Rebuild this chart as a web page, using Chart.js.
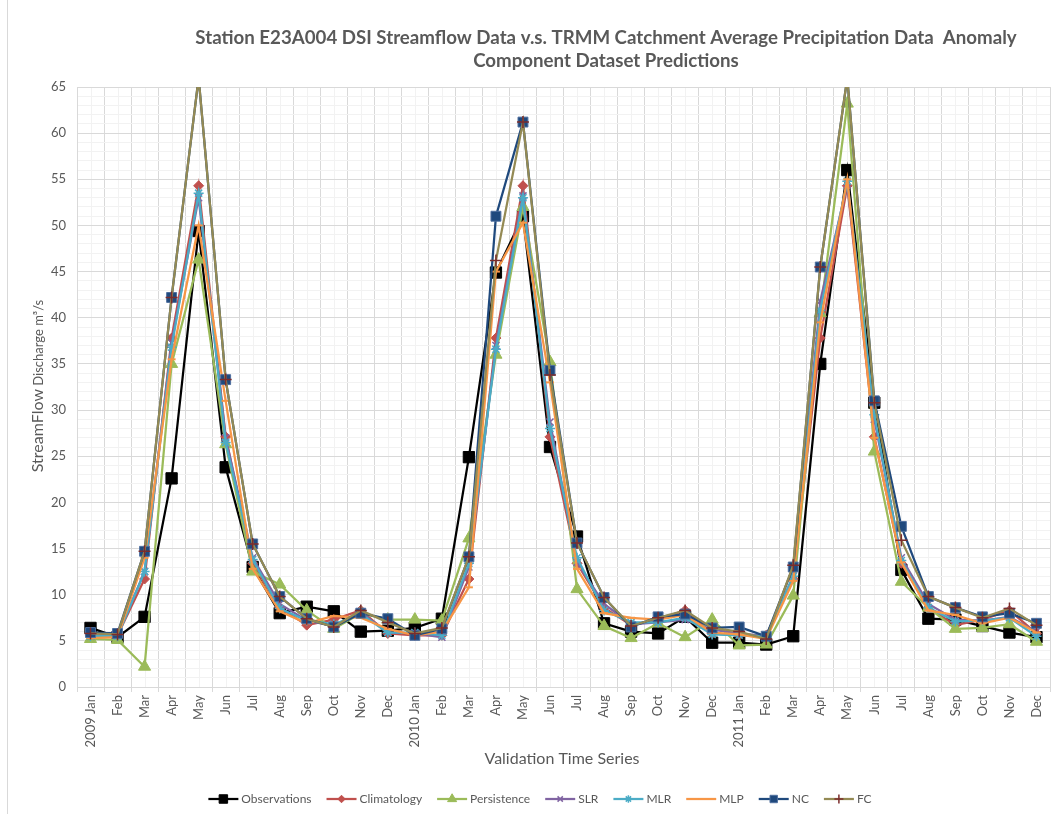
<!DOCTYPE html>
<html>
<head>
<meta charset="utf-8">
<title>Station E23A004 DSI Streamflow vs TRMM</title>
<script src="https://cdn.jsdelivr.net/npm/chart.js@4.4.0/dist/chart.umd.min.js"></script>
<style>
  html, body { margin: 0; padding: 0; background: #fff; }
  canvas { display: block; }
</style>
</head>
<body>
<canvas id="chart" width="1051" height="814"></canvas>
<script>
// ---- data ----
const categories = [
  '2009 Jan', 'Feb', 'Mar', 'Apr', 'May', 'Jun', 'Jul', 'Aug', 'Sep', 'Oct', 'Nov', 'Dec',
  '2010 Jan', 'Feb', 'Mar', 'Apr', 'May', 'Jun', 'Jul', 'Aug', 'Sep', 'Oct', 'Nov', 'Dec',
  '2011 Jan', 'Feb', 'Mar', 'Apr', 'May', 'Jun', 'Jul', 'Aug', 'Sep', 'Oct', 'Nov', 'Dec'
];
const observations = [6.4, 5.4, 7.6, 22.6, 49.4, 23.8, 13.0, 8.0, 8.7, 8.2, 6.0, 6.1,
                      6.4, 7.4, 24.9, 44.9, 51.0, 26.0, 16.3, 6.9, 6.0, 5.8, 7.6, 4.8,
                      4.8, 4.6, 5.5, 35.0, 56.0, 30.8, 12.7, 7.4, 7.3, 6.6, 5.9, 5.4];
const climatology = [5.6, 5.6, 11.7, 37.8, 54.3, 27.1, 13.4, 8.6, 6.7, 7.3, 8.3, 5.8,
                     5.6, 5.6, 11.7, 37.8, 54.3, 27.1, 13.4, 8.6, 6.7, 7.3, 8.3, 5.8,
                     5.6, 5.6, 11.7, 37.8, 54.3, 27.1, 13.4, 8.6, 6.7, 7.3, 8.3, 5.8];
const persistence = [5.2, 5.1, 2.2, 35.0, 46.3, 26.3, 12.5, 11.1, 8.3, 6.3, 8.0, 7.3,
                     7.3, 7.2, 16.1, 36.0, 52.0, 35.2, 10.6, 6.6, 5.3, 6.9, 5.4, 7.3,
                     4.5, 4.6, 9.9, 40.5, 63.2, 25.5, 11.4, 8.6, 6.3, 6.4, 6.8, 4.9];
const slr = [5.5, 5.6, 12.5, 37.3, 53.0, 27.0, 14.0, 9.0, 7.2, 6.6, 8.1, 5.9,
             5.8, 5.4, 13.0, 37.0, 53.2, 28.7, 13.5, 9.0, 6.8, 7.0, 7.3, 6.2,
             5.8, 5.5, 12.0, 41.8, 54.5, 29.0, 14.0, 9.0, 7.3, 7.2, 7.6, 6.0];
const mlr = [5.5, 5.5, 12.5, 36.8, 53.5, 26.5, 13.8, 8.5, 7.2, 6.8, 7.9, 5.9,
             5.9, 5.6, 13.4, 36.6, 53.0, 28.0, 14.0, 8.3, 7.0, 7.0, 7.5, 5.7,
             5.6, 5.5, 12.0, 40.8, 54.8, 29.5, 13.7, 8.6, 7.1, 7.2, 7.5, 5.5];
const mlp = [5.3, 5.4, 14.0, 35.5, 50.0, 31.0, 12.8, 8.2, 6.9, 7.7, 7.5, 6.3,
             5.6, 6.0, 10.8, 45.0, 50.3, 33.0, 12.8, 8.0, 7.5, 7.3, 7.8, 5.9,
             5.7, 5.2, 11.5, 39.5, 55.0, 27.0, 13.5, 8.3, 7.8, 6.9, 7.5, 5.9];
const nc = [5.9, 5.8, 14.7, 42.2, 66.0, 33.3, 15.5, 9.8, 7.4, 6.5, 8.0, 7.4,
            5.6, 6.3, 14.1, 51.0, 61.2, 34.3, 15.6, 9.7, 6.5, 7.6, 7.9, 6.4,
            6.5, 5.5, 13.0, 45.5, 66.0, 31.0, 17.4, 9.8, 8.6, 7.6, 8.0, 6.9];
const fc = [5.8, 5.7, 14.7, 42.2, 66.0, 33.3, 15.5, 9.8, 7.4, 6.5, 8.3, 7.0,
            5.8, 6.4, 14.1, 46.2, 61.2, 33.8, 15.6, 9.7, 6.6, 7.5, 8.3, 6.4,
            6.0, 5.2, 13.2, 45.5, 66.0, 30.8, 15.9, 9.8, 8.6, 7.5, 8.5, 6.7];

const titleLines = [
  'Station E23A004 DSI Streamflow Data v.s. TRMM Catchment Average Precipitation Data  Anomaly',
  'Component Dataset Predictions'
];

Chart.defaults.font.family = 'Lato, "Open Sans", sans-serif';
Chart.defaults.color = '#595959';

// title, axis titles, legend and the minor category gridlines
const decor = {
  id: 'decor',
  beforeDraw(chart) {
    const { ctx, chartArea: a, scales: { x } } = chart;
    ctx.save();
    ctx.strokeStyle = '#f2f2f2';
    ctx.lineWidth = 1;
    for (let i = 0; i < categories.length; i++) {
      const px = Math.round(x.getPixelForValue(i)) + 0.5;
      ctx.beginPath();
      ctx.moveTo(px, a.top);
      ctx.lineTo(px, a.bottom);
      ctx.stroke();
    }
    // chart frame edge on the left
    ctx.strokeStyle = '#d9d9d9';
    ctx.beginPath();
    ctx.moveTo(7.5, 0);
    ctx.lineTo(7.5, 814);
    ctx.stroke();
    ctx.restore();
  },
  afterDraw(chart) {
    const { ctx } = chart;
    ctx.save();
    ctx.fillStyle = '#595959';
    ctx.textAlign = 'center';
    ctx.textBaseline = 'middle';

    // title
    ctx.font = 'bold 18.7px Lato';
    ctx.fillText(titleLines[0], 606, 38);
    ctx.fillText(titleLines[1], 606, 61);

    // x axis title
    ctx.font = '16px Lato';
    ctx.fillText('Validation Time Series', 562, 759);

    // y axis title, two sizes
    ctx.save();
    ctx.translate(38, 386);
    ctx.rotate(-Math.PI / 2);
    const big = 'StreamFlow', small = ' Discharge m\u00b3/s';
    ctx.font = '16px Lato';
    const wBig = ctx.measureText(big).width;
    ctx.font = '13px Lato';
    const wSmall = ctx.measureText(small).width;
    ctx.textAlign = 'left';
    ctx.font = '16px Lato';
    ctx.fillText(big, -(wBig + wSmall) / 2, 0);
    ctx.font = '13px Lato';
    ctx.fillText(small, -(wBig + wSmall) / 2 + wBig, 1);
    ctx.restore();

    // legend
    ctx.font = '12px Lato';
    ctx.textAlign = 'left';
    const lineLen = 30, gap = 3, spacing = 15, ly = 799;
    const items = chart.data.datasets.map(ds => ({ ds, w: lineLen + gap + ctx.measureText(ds.label).width }));
    const total = items.reduce((s, it) => s + it.w, 0) + spacing * (items.length - 1);
    let lx = 540 - total / 2;
    items.forEach(({ ds, w }) => {
      ctx.strokeStyle = ds.borderColor;
      ctx.lineWidth = 2.25;
      ctx.beginPath();
      ctx.moveTo(lx, ly);
      ctx.lineTo(lx + lineLen, ly);
      ctx.stroke();
      ctx.fillStyle = ds.pointBackgroundColor || ds.borderColor;
      ctx.strokeStyle = ds.pointBorderColor || ds.borderColor;
      ctx.lineWidth = ds.pointBorderWidth || 1;
      Chart.helpers.drawPoint(ctx, {
        pointStyle: ds.pointStyle, rotation: 0,
        radius: ds.pointRadius * 0.75, borderWidth: ds.pointBorderWidth || 1
      }, lx + lineLen / 2, ly);
      ctx.fillStyle = '#595959';
      ctx.fillText(ds.label, lx + lineLen + gap, ly);
      lx += w + spacing;
    });
    ctx.restore();
  }
};

function series(label, data, color, style, radius, extra) {
  return Object.assign({
    label, data,
    borderColor: color,
    backgroundColor: color,
    pointBackgroundColor: color,
    pointBorderColor: color,
    borderWidth: 2.25,
    pointStyle: style,
    pointRadius: radius,
    pointBorderWidth: 1,
    tension: 0,
    clip: 0
  }, extra || {});
}

new Chart(document.getElementById('chart'), {
  type: 'line',
  data: {
    labels: categories,
    datasets: [
      series('Observations', observations, '#000000', 'rect', 8, { order: 8 }),
      series('Climatology', climatology, '#C0504D', 'rectRot', 5, { order: 7 }),
      series('Persistence', persistence, '#9BBB59', 'triangle', 7, { order: 6 }),
      series('SLR', slr, '#8064A2', 'crossRot', 5, { order: 5, pointBorderWidth: 1.5 }),
      series('MLR', mlr, '#4BACC6', 'star', 5, { order: 4, pointBorderWidth: 1.5 }),
      series('MLP', mlp, '#F79646', 'line', 4, { order: 3, pointBorderWidth: 2 }),
      series('NC', nc, '#1F497D', 'rect', 7, { order: 2, pointBorderColor: '#4F6F9F' }),
      series('FC', fc, '#948A54', 'cross', 6, { order: 1, pointBorderColor: '#7B2C2C', pointBackgroundColor: '#7B2C2C', pointBorderWidth: 1.5 })
    ]
  },
  options: {
    responsive: false,
    animation: false,
    events: [],
    layout: { autoPadding: false, padding: { top: 87, right: 1, left: 0, bottom: 0 } },
    plugins: {
      legend: { display: false },
      title: { display: false },
      tooltip: { enabled: false }
    },
    scales: {
      x: {
        offset: true,
        grid: { offset: true, color: '#d9d9d9', tickLength: 5 },
        border: { color: '#d9d9d9' },
        ticks: { autoSkip: false, minRotation: 90, maxRotation: 90, padding: 3, font: { size: 13, lineHeight: 0.8 }, color: '#595959' },
        afterFit(scale) { scale.height = 127; scale.paddingLeft = 0; scale.paddingRight = 0; }
      },
      y: {
        min: 0,
        max: 65,
        grid: {
          drawTicks: false,
          color: c => (c.tick.value % 5 === 0 ? '#d9d9d9' : '#f2f2f2')
        },
        border: { color: '#d9d9d9' },
        ticks: {
          stepSize: 1,
          autoSkip: false,
          padding: 11,
          font: { size: 13 },
          color: '#595959',
          callback: v => (v % 5 === 0 ? v : '')
        },
        afterFit(scale) { scale.width = 77; scale.paddingTop = 0; scale.paddingBottom = 0; }
      }
    }
  },
  plugins: [decor]
});
</script>
</body>
</html>
